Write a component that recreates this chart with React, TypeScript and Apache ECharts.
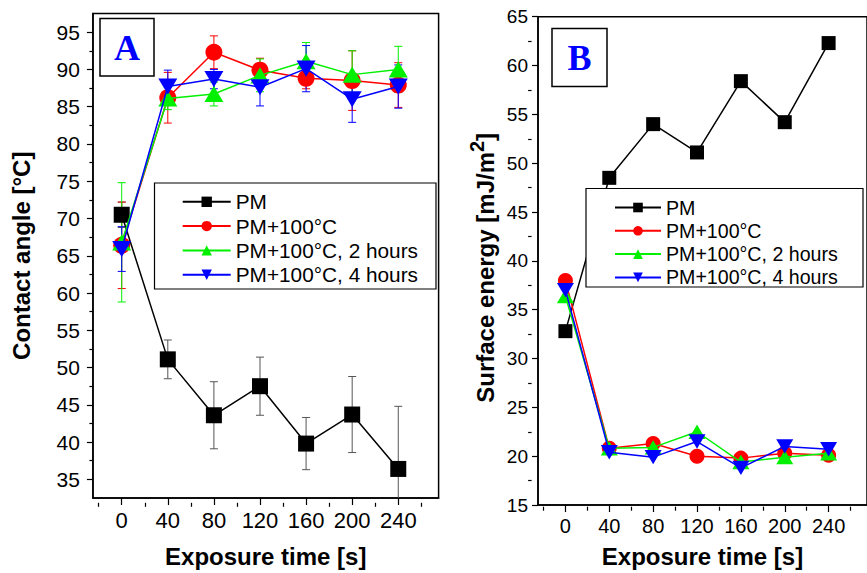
import React, { useEffect, useRef } from "react";
import * as echarts from "echarts";

// ---------- data ----------
const exposureTimes = [0, 40, 80, 120, 160, 200, 240];
const xTickValues = [0, 40, 80, 120, 160, 200, 240];
const xMinorTicks = [-20, 20, 60, 100, 140, 180, 220, 260];
const yTicksA = [35, 40, 45, 50, 55, 60, 65, 70, 75, 80, 85, 90, 95];
const yMinorA = [37.5, 42.5, 47.5, 52.5, 57.5, 62.5, 67.5, 72.5, 77.5, 82.5, 87.5, 92.5];
const yTicksB = [15, 20, 25, 30, 35, 40, 45, 50, 55, 60, 65];
const yMinorB = [17.5, 22.5, 27.5, 32.5, 37.5, 42.5, 47.5, 52.5, 57.5, 62.5];

const seriesNames = ["PM", "PM+100°C", "PM+100°C, 2 hours", "PM+100°C, 4 hours"];

// Panel A: contact angle
const pmAngle = [70.5, 51.1, 43.6, 47.5, 39.8, 43.7, 36.4];
const pmAngleErr = [1.7, 2.6, 4.5, 3.9, 3.5, 5.1, 8.4];
const heatAngle = [66.4, 86.2, 92.3, 89.9, 88.8, 88.5, 87.9];
const heatAngleErr = [5.8, 3.4, 2.2, 1.6, 1.4, 4.0, 3.0];
const heat2hAngle = [66.8, 86.1, 86.7, 89.2, 91.1, 89.3, 90.0];
const heat2hAngleErr = [8.0, 1.5, 1.6, 2.2, 2.5, 3.2, 3.1];
const heat4hAngle = [65.9, 87.7, 88.7, 87.6, 90.1, 86.0, 87.7];
const heat4hAngleErr = [3.0, 2.2, 1.3, 2.5, 3.1, 3.1, 2.9];

// Panel B: surface energy
const pmEnergy = [32.8, 48.5, 54.0, 51.1, 58.4, 54.2, 62.3];
const heatEnergy = [38.0, 20.8, 21.3, 20.0, 19.8, 20.3, 20.1];
const heat2hEnergy = [36.4, 20.8, 20.9, 22.5, 19.4, 19.9, 20.3];
const heat4hEnergy = [37.0, 20.4, 19.9, 21.5, 18.8, 21.0, 20.7];

const colors = ["#000000", "#ff0000", "#00f000", "#0000ff"];
const errColors = ["#555555", "#ff0000", "#00f000", "#0000ff"];
const symbols = [
  "rect",
  "circle",
  "triangle",
  "path://M0,0 L10,0 L5,9 Z",
];
const FONT = "Liberation Sans, Arial, sans-serif";

const pairs = (ys: number[]) => exposureTimes.map((x, i) => [x, ys[i]]);
const triples = (ys: number[], es: number[]) => exposureTimes.map((x, i) => [x, ys[i], es[i]]);

const GRID_A = { left: 92.9, top: 13.5, width: 345.7, height: 489.3 };
const GRID_B = { left: 538, top: 16.7, width: 335.4, height: 490 };

export default function App() {
  const ref = useRef<HTMLDivElement>(null);
  useEffect(() => {
    if (!ref.current) return;
    const chart = echarts.init(ref.current, null, { renderer: "svg" });

    const mainX = (grid: number, fontSize: number, margin: number, nameGap: number) => ({
      type: "value",
      gridIndex: grid,
      position: "bottom",
      min: -25,
      max: 275,
      name: "Exposure time [s]",
      nameLocation: "middle",
      nameGap,
      nameTextStyle: { fontFamily: FONT, fontWeight: "bold", fontSize: 24, color: "#000" },
      axisLine: { show: true, onZero: false, lineStyle: { color: "#000", width: 1.5 } },
      axisTick: { show: true, inside: false, length: 7, customValues: xTickValues, lineStyle: { color: "#000", width: 1.2 } },
      axisLabel: { show: true, customValues: xTickValues, fontFamily: FONT, fontSize, color: "#000", margin },
      splitLine: { show: false },
    });
    // minor-tick axis: placed at top, shifted down onto the bottom edge, ticks pointing down
    const minorX = (grid: number, h: number) => ({
      type: "value",
      gridIndex: grid,
      position: "top",
      offset: -h,
      min: -25,
      max: 275,
      axisLine: { show: false, onZero: false },
      axisTick: { show: true, inside: true, length: 4, customValues: xMinorTicks, lineStyle: { color: "#000", width: 1.2 } },
      axisLabel: { show: false },
      splitLine: { show: false },
    });
    const mainY = (grid: number, min: number, max: number, ticks: number[], name: any, nameGap: number, fontSize: number, margin: number, rich?: any, padding?: number[]) => ({
      type: "value",
      gridIndex: grid,
      position: "left",
      min,
      max,
      name,
      nameLocation: "middle",
      nameGap,
      nameRotate: 90,
      nameTextStyle: { fontFamily: FONT, fontWeight: "bold", fontSize: 24, color: "#000", rich, padding: padding || 0 },
      axisLine: { show: true, onZero: false, lineStyle: { color: "#000", width: 1.5 } },
      axisTick: { show: true, inside: false, length: 6, customValues: ticks, lineStyle: { color: "#000", width: 1.2 } },
      axisLabel: { show: true, customValues: ticks, fontFamily: FONT, fontSize, color: "#000", margin },
      splitLine: { show: false },
    });
    // minor-tick axis: placed at right, shifted left onto the left edge, ticks pointing left
    const minorY = (grid: number, min: number, max: number, ticks: number[], w: number) => ({
      type: "value",
      gridIndex: grid,
      position: "right",
      offset: -w,
      min,
      max,
      axisLine: { show: false, onZero: false },
      axisTick: { show: true, inside: true, length: 3.5, customValues: ticks, lineStyle: { color: "#000", width: 1.2 } },
      axisLabel: { show: false },
      splitLine: { show: false },
    });

    const errorSeries = (ys: number[], es: number[], color: string) => ({
      type: "custom",
      xAxisIndex: 0,
      yAxisIndex: 0,
      clip: true,
      z: 1,
      silent: true,
      data: triples(ys, es),
      renderItem: (params: any, api: any) => {
        const x = api.value(0);
        const y = api.value(1);
        const e = api.value(2);
        const top = api.coord([x, y + e]);
        const bot = api.coord([x, y - e]);
        const hw = 4;
        const st = { stroke: color, lineWidth: 1 };
        return {
          type: "group",
          children: [
            { type: "line", shape: { x1: top[0], y1: top[1], x2: bot[0], y2: bot[1] }, style: st },
            { type: "line", shape: { x1: top[0] - hw, y1: top[1], x2: top[0] + hw, y2: top[1] }, style: st },
            { type: "line", shape: { x1: bot[0] - hw, y1: bot[1], x2: bot[0] + hw, y2: bot[1] }, style: st },
          ],
        };
      },
    });

    const lineSeries = (idx: number, ys: number[], xi: number, yi: number, sizes: number[]) => ({
      type: "line",
      name: seriesNames[idx],
      xAxisIndex: xi,
      yAxisIndex: yi,
      z: 2 + idx,
      data: pairs(ys),
      symbol: symbols[idx],
      symbolSize: idx >= 2 ? [sizes[idx], sizes[idx] * 0.85] : sizes[idx],
      showAllSymbol: true,
      lineStyle: { color: colors[idx], width: 1.5 },
      itemStyle: { color: colors[idx] },
      emphasis: { disabled: true },
    });

    const sizesA = [16, 17, 19, 19];
    const sizesB = [14, 15, 17, 17];

    const option: any = {
      animation: false,
      backgroundColor: "#ffffff",
      grid: [
        { ...GRID_A, show: true, borderColor: "#000", borderWidth: 1.5, backgroundColor: "transparent" },
        { ...GRID_B, show: true, borderColor: "#000", borderWidth: 1.5, backgroundColor: "transparent" },
      ],
      xAxis: [mainX(0, 22, 11, 46), minorX(0, GRID_A.height), mainX(1, 20, 11, 39), minorX(1, GRID_B.height)],
      yAxis: [
        mainY(0, 32.5, 97.5, yTicksA, "Contact angle [°C]", 59, 21, 13),
        minorY(0, 32.5, 97.5, yMinorA, GRID_A.width),
        mainY(1, 15, 65, yTicksB, "{a|Surface energy [mJ/m}{s|2}{a|]}", 41, 19, 10, {
          a: { fontFamily: FONT, fontWeight: "bold", fontSize: 24, color: "#000", lineHeight: 30, verticalAlign: "bottom" },
          s: { fontFamily: FONT, fontWeight: "bold", fontSize: 20, color: "#000", lineHeight: 30, verticalAlign: "top" },
        }, [0, 14, 0, 0]),
        minorY(1, 15, 65, yMinorB, GRID_B.width),
      ],
      legend: [
        {
          data: seriesNames,
          orient: "vertical",
          left: 181.7,
          top: 191.3,
          itemWidth: 48,
          itemHeight: 13,
          itemGap: 3.3,
          z: 60,
          textStyle: { fontFamily: FONT, fontSize: 20.8, color: "#000" },
          selectedMode: false,
          padding: 0,
        },
        {
          data: seriesNames,
          orient: "vertical",
          left: 614,
          top: 197.5,
          itemWidth: 46,
          itemHeight: 12,
          itemGap: 3.3,
          z: 60,
          textStyle: { fontFamily: FONT, fontSize: 19.6, color: "#000" },
          selectedMode: false,
          padding: 0,
        },
      ],
      graphic: [
        { type: "rect", shape: { x: 100, y: 18.5, width: 54, height: 57.5 }, style: { fill: "#fff", stroke: "#000", lineWidth: 1.5 }, z: 100 },
        { type: "text", x: 127, y: 48, style: { text: "A", fill: "#0000ff", font: "bold 36px 'Liberation Serif', 'Times New Roman', serif", textAlign: "center", textVerticalAlign: "middle" }, z: 101 },
        { type: "rect", shape: { x: 552, y: 28.5, width: 55, height: 58 }, style: { fill: "#fff", stroke: "#000", lineWidth: 1.5 }, z: 100 },
        { type: "text", x: 579.5, y: 58, style: { text: "B", fill: "#0000ff", font: "bold 36px 'Liberation Serif', 'Times New Roman', serif", textAlign: "center", textVerticalAlign: "middle" }, z: 101 },
        { type: "rect", shape: { x: 154.5, y: 183, width: 281.5, height: 106 }, style: { fill: "#fff", stroke: "#000", lineWidth: 1.2 }, z: 50 },
        { type: "rect", shape: { x: 586, y: 188.5, width: 277, height: 98.5 }, style: { fill: "#fff", stroke: "#000", lineWidth: 1.2 }, z: 50 },
      ],
      series: [
        errorSeries(pmAngle, pmAngleErr, errColors[0]),
        errorSeries(heatAngle, heatAngleErr, errColors[1]),
        errorSeries(heat2hAngle, heat2hAngleErr, errColors[2]),
        errorSeries(heat4hAngle, heat4hAngleErr, errColors[3]),
        lineSeries(0, pmAngle, 0, 0, sizesA),
        lineSeries(1, heatAngle, 0, 0, sizesA),
        lineSeries(2, heat2hAngle, 0, 0, sizesA),
        lineSeries(3, heat4hAngle, 0, 0, sizesA),
        lineSeries(0, pmEnergy, 2, 2, sizesB),
        lineSeries(1, heatEnergy, 2, 2, sizesB),
        lineSeries(2, heat2hEnergy, 2, 2, sizesB),
        lineSeries(3, heat4hEnergy, 2, 2, sizesB),
      ],
    };
    chart.setOption(option);
    return () => chart.dispose();
  }, []);
  return (
    <div
      ref={ref}
      style={{ position: "fixed", left: 0, top: 0, width: 867, height: 573, background: "#fff" }}
    />
  );
}
